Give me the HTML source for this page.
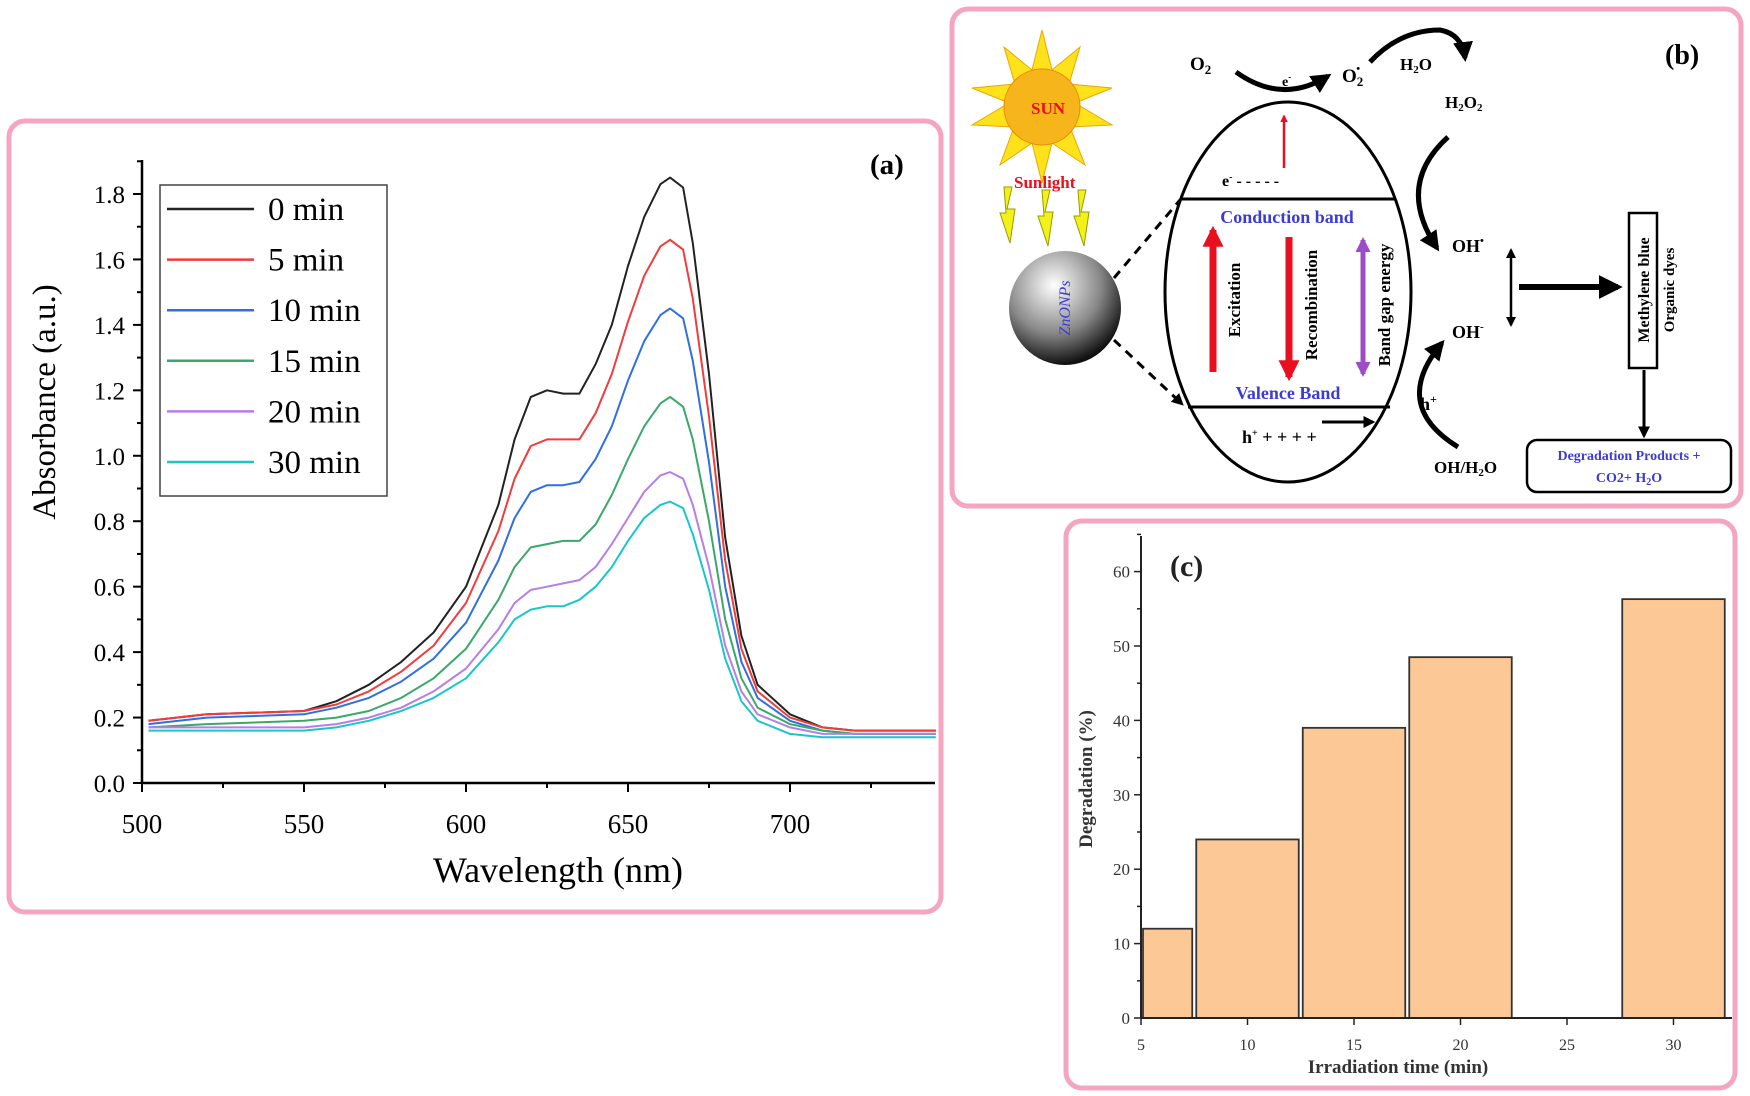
<!DOCTYPE html>
<html><head><meta charset="utf-8"><style>
html,body{margin:0;padding:0;background:#fff;}
svg{display:block;font-family:"Liberation Serif",serif;}
</style></head><body>
<svg id="fig" width="1750" height="1096" viewBox="0 0 1750 1096">
<defs>
<marker id="ah" viewBox="0 0 10 10" refX="8" refY="5" markerWidth="4" markerHeight="4" orient="auto"><path d="M0,0L10,5L0,10z" fill="#000"/></marker>
<marker id="ahr" viewBox="0 0 10 10" refX="8" refY="5" markerWidth="3" markerHeight="3" orient="auto-start-reverse"><path d="M0,0L10,5L0,10z" fill="#e8101e"/></marker>
<marker id="ahp" viewBox="0 0 10 10" refX="8" refY="5" markerWidth="3" markerHeight="3" orient="auto-start-reverse"><path d="M0,0L10,5L0,10z" fill="#9b4cc6"/></marker>
<marker id="ahk" viewBox="0 0 10 10" refX="8" refY="5" markerWidth="4" markerHeight="4" orient="auto-start-reverse"><path d="M0,0L10,5L0,10z" fill="#000"/></marker>
<radialGradient id="sph" cx="0.4" cy="0.3" r="0.7"><stop offset="0" stop-color="#fff"/><stop offset="0.6" stop-color="#888"/><stop offset="1" stop-color="#111"/></radialGradient>
</defs>
<!-- panel frames -->
<rect x="9" y="121" width="932" height="791" rx="16" fill="none" stroke="#f4a6c0" stroke-width="5"/>
<rect x="952" y="9" width="789" height="497" rx="16" fill="none" stroke="#f4a6c0" stroke-width="5"/>
<rect x="1066" y="521" width="669" height="567" rx="16" fill="none" stroke="#f4a6c0" stroke-width="5"/>

<g id="pa"></g>
<g id="pc"></g>

<!-- panel b: mechanism diagram -->
<g>
 <g>
  <polygon fill="#ffe21a" stroke="#e8a800" stroke-width="1" points="1042,30 1052,70 1080,47 1069,84 1112,88 1075,103 1112,125 1070,127 1085,165 1052,143 1042,183 1032,143 1000,165 1014,127 972,125 1009,103 972,88 1015,84 1004,47 1032,70"/>
  <circle cx="1042" cy="107" r="38" fill="#f7b51c" stroke="#e88a00"/>
  <text x="1031" y="114" font-size="17" font-weight="bold" fill="#e8101e">SUN</text>
 </g>
 <text x="1014" y="188" font-size="17" font-weight="bold" fill="#e8101e">Sunlight</text>
 <g fill="#f2f21a" stroke="#9a9a00" stroke-width="1">
  <path d="M1004,187 l8,0 l-5,22 l8,0 l-5,34 l-10,-30 l6,0 z"/>
  <path d="M1042,190 l8,0 l-5,22 l8,0 l-5,34 l-10,-30 l6,0 z"/>
  <path d="M1078,190 l8,0 l-5,22 l8,0 l-5,34 l-10,-30 l6,0 z"/>
 </g>
 <ellipse cx="1065" cy="308" rx="56" ry="57" fill="url(#sph)"/>
 <text transform="translate(1070,308) rotate(-90)" text-anchor="middle" font-size="16" fill="#3b3bd6" font-style="italic">ZnONPs</text>
 <line x1="1114" y1="278" x2="1180" y2="200" stroke="#000" stroke-width="3" stroke-dasharray="9,7"/>
 <line x1="1114" y1="340" x2="1182" y2="404" stroke="#000" stroke-width="3" stroke-dasharray="9,7" marker-end="url(#ah)"/>
 <ellipse cx="1288" cy="292" rx="123" ry="190" fill="none" stroke="#000" stroke-width="3"/>
 <line x1="1180" y1="199" x2="1396" y2="199" stroke="#000" stroke-width="3"/>
 <line x1="1188" y1="407" x2="1390" y2="407" stroke="#000" stroke-width="3"/>
 <text x="1287" y="223" text-anchor="middle" font-size="18" font-weight="bold" fill="#3b3bd6">Conduction band</text>
 <text x="1288" y="399" text-anchor="middle" font-size="18" font-weight="bold" fill="#3b3bd6">Valence Band</text>
 <text x="1222" y="186" font-size="16" font-weight="bold">e<tspan dy="-6" font-size="10">-</tspan><tspan dy="6"> - - - - -</tspan></text>
 <line x1="1284" y1="168" x2="1284" y2="116" stroke="#e8101e" stroke-width="2.5" marker-end="url(#ahr)"/>
 <line x1="1213" y1="372" x2="1213" y2="230" stroke="#e8101e" stroke-width="7" marker-end="url(#ahr)"/>
 <line x1="1289" y1="237" x2="1289" y2="377" stroke="#e8101e" stroke-width="7" marker-end="url(#ahr)"/>
 <line x1="1363" y1="240" x2="1363" y2="374" stroke="#9b4cc6" stroke-width="5" marker-start="url(#ahp)" marker-end="url(#ahp)"/>
 <text transform="translate(1240,300) rotate(-90)" text-anchor="middle" font-size="17" font-weight="bold">Excitation</text>
 <text transform="translate(1317,305) rotate(-90)" text-anchor="middle" font-size="17" font-weight="bold">Recombination</text>
 <text transform="translate(1390,305) rotate(-90)" text-anchor="middle" font-size="17" font-weight="bold">Band gap energy</text>
 <text x="1242" y="443" font-size="18" font-weight="bold">h<tspan dy="-7" font-size="10">+</tspan><tspan dy="7"> + + + +</tspan></text>
 <line x1="1322" y1="422" x2="1373" y2="422" stroke="#000" stroke-width="3" marker-end="url(#ah)"/>
 <text x="1190" y="70" font-size="19" font-weight="bold">O<tspan font-size="13" dy="4">2</tspan></text>
 <path d="M1236,72 Q1282,105 1328,76" fill="none" stroke="#000" stroke-width="5" marker-end="url(#ah)"/>
 <text x="1282" y="86" font-size="14" font-weight="bold">e<tspan dy="-6" font-size="9">-</tspan></text>
 <text x="1342" y="82" font-size="19" font-weight="bold">O<tspan font-size="13" dy="4">2</tspan><tspan font-size="11" dy="-14" dx="-7">•</tspan></text>
 <path d="M1370,62 Q1400,30 1440,30 Q1462,34 1465,58" fill="none" stroke="#000" stroke-width="5" marker-end="url(#ah)"/>
 <text x="1400" y="70" font-size="17" font-weight="bold">H<tspan font-size="11" dy="3">2</tspan><tspan dy="-3">O</tspan></text>
 <text x="1445" y="108" font-size="17" font-weight="bold">H<tspan font-size="11" dy="3">2</tspan><tspan dy="-3">O</tspan><tspan font-size="11" dy="3">2</tspan></text>
 <path d="M1448,137 Q1395,185 1437,248" fill="none" stroke="#000" stroke-width="5" marker-end="url(#ah)"/>
 <text x="1452" y="252" font-size="18" font-weight="bold">OH<tspan dy="-8" font-size="11">•</tspan></text>
 <line x1="1511" y1="250" x2="1511" y2="325" stroke="#000" stroke-width="2.5" marker-start="url(#ahk)" marker-end="url(#ahk)"/>
 <text x="1452" y="338" font-size="18" font-weight="bold">OH<tspan dy="-8" font-size="11">-</tspan></text>
 <path d="M1458,447 Q1390,405 1442,343" fill="none" stroke="#000" stroke-width="5" marker-end="url(#ah)"/>
 <text x="1420" y="410" font-size="18" font-weight="bold">h<tspan dy="-7" font-size="12">+</tspan></text>
 <text x="1434" y="473" font-size="17" font-weight="bold">OH/H<tspan font-size="11" dy="3">2</tspan><tspan dy="-3">O</tspan></text>
 <line x1="1519" y1="287" x2="1618" y2="287" stroke="#000" stroke-width="6" marker-end="url(#ah)"/>
 <rect x="1629" y="213" width="28" height="155" fill="#fff" stroke="#000" stroke-width="2.5"/>
 <text transform="translate(1649,290) rotate(-90)" text-anchor="middle" font-size="16" font-weight="bold">Methylene blue</text>
 <text transform="translate(1674,290) rotate(-90)" text-anchor="middle" font-size="15" font-weight="bold">Organic dyes</text>
 <line x1="1644" y1="370" x2="1644" y2="436" stroke="#000" stroke-width="3" marker-end="url(#ah)"/>
 <rect x="1527" y="440" width="204" height="52" rx="10" fill="#fff" stroke="#000" stroke-width="2.5"/>
 <text x="1629" y="460" text-anchor="middle" font-size="14" font-weight="bold" fill="#3b3bd6">Degradation Products +</text>
 <text x="1629" y="482" text-anchor="middle" font-size="14" font-weight="bold" fill="#3b3bd6">CO2+ H<tspan font-size="10" dy="3">2</tspan><tspan dy="-3">O</tspan></text>
 <text x="1665" y="64" font-size="28" font-weight="bold">(b)</text>
</g>
</svg>
<script>
const NS="http://www.w3.org/2000/svg";
// ---- panel (a) data ----
const wavelengths=[502,520,550,560,570,580,590,600,610,615,620,625,630,635,640,645,650,655,660,663,667,670,675,680,685,690,700,710,720,745];
const seriesNames=["0 min","5 min","10 min","15 min","20 min","30 min"];
const abs0=[0.19,0.21,0.22,0.25,0.30,0.37,0.46,0.60,0.85,1.05,1.18,1.20,1.19,1.19,1.28,1.40,1.58,1.73,1.83,1.85,1.82,1.65,1.25,0.75,0.45,0.30,0.21,0.17,0.16,0.16];
const abs5=[0.19,0.21,0.22,0.24,0.28,0.34,0.42,0.55,0.77,0.93,1.03,1.05,1.05,1.05,1.13,1.25,1.41,1.55,1.64,1.66,1.63,1.48,1.12,0.68,0.41,0.28,0.20,0.17,0.16,0.16];
const abs10=[0.18,0.20,0.21,0.23,0.26,0.31,0.38,0.49,0.68,0.81,0.89,0.91,0.91,0.92,0.99,1.09,1.23,1.35,1.43,1.45,1.42,1.29,0.98,0.60,0.37,0.26,0.19,0.16,0.15,0.15];
const abs15=[0.17,0.18,0.19,0.20,0.22,0.26,0.32,0.41,0.56,0.66,0.72,0.73,0.74,0.74,0.79,0.88,0.99,1.09,1.16,1.18,1.15,1.05,0.80,0.50,0.32,0.23,0.18,0.16,0.15,0.15];
const abs20=[0.17,0.17,0.17,0.18,0.20,0.23,0.28,0.35,0.47,0.55,0.59,0.60,0.61,0.62,0.66,0.73,0.81,0.89,0.94,0.95,0.93,0.85,0.66,0.42,0.28,0.21,0.17,0.15,0.15,0.15];
const abs30=[0.16,0.16,0.16,0.17,0.19,0.22,0.26,0.32,0.43,0.50,0.53,0.54,0.54,0.56,0.60,0.66,0.74,0.81,0.85,0.86,0.84,0.76,0.59,0.38,0.25,0.19,0.15,0.14,0.14,0.14];
const seriesColors=["#222","#f03c3c","#2f6fe0","#3aa86a","#b77ee6","#19c6c9"];
const xTicksA=[500,550,600,650,700];
const yTicksA=[0.0,0.2,0.4,0.6,0.8,1.0,1.2,1.4,1.6,1.8];
// ---- panel (c) data ----
const times=[5,10,15,20,30];
const degradation=[12,24,39,48.5,56.3];
const xTicksC=[5,10,15,20,25,30];
const yTicksC=[0,10,20,30,40,50,60];

function mk(tag,attrs,parent,txt){const e=document.createElementNS(NS,tag);for(const k in attrs)e.setAttribute(k,attrs[k]);if(txt!==undefined)e.textContent=txt;parent.appendChild(e);return e;}

// panel a
const pa=document.getElementById('pa');
const ax=w=>142+(w-500)*162/50;
const ay=v=>783-v*(783-194)/1.8;
mk('line',{x1:142,y1:783,x2:935,y2:783,stroke:'#000','stroke-width':2.5},pa);
mk('line',{x1:142,y1:783,x2:142,y2:160,stroke:'#000','stroke-width':2.5},pa);
xTicksA.forEach(t=>{
 mk('line',{x1:ax(t),y1:783,x2:ax(t),y2:792,stroke:'#000','stroke-width':2},pa);
 const m=ax(t+25); if(m<935) mk('line',{x1:m,y1:783,x2:m,y2:788,stroke:'#000','stroke-width':2},pa);
 const tl=mk('text',{x:ax(t),y:833,'text-anchor':'middle','font-size':27},pa,String(t));
 
 
});
yTicksA.forEach(t=>{
 mk('line',{x1:133,y1:ay(t),x2:142,y2:ay(t),stroke:'#000','stroke-width':2},pa);
 mk('line',{x1:137,y1:ay(t+0.1),x2:142,y2:ay(t+0.1),stroke:'#000','stroke-width':2},pa);
 const tl=mk('text',{x:125,y:ay(t)+9,'text-anchor':'end','font-size':25},pa,t.toFixed(1));
 
 
});
const yt=mk('text',{transform:'translate(55,402) rotate(-90)','text-anchor':'middle','font-size':33},pa,'Absorbance (a.u.)');


const xt=mk('text',{x:558,y:882,'text-anchor':'middle','font-size':36},pa,'Wavelength (nm)');


const la=mk('text',{x:870,y:174,'font-size':29,'font-weight':'bold'},pa,'(a)');


const allAbs=[abs0,abs5,abs10,abs15,abs20,abs30];
allAbs.forEach((s,i)=>{
 const d=s.map((v,j)=>(j?'L':'M')+ax(wavelengths[j]).toFixed(1)+','+ay(v).toFixed(1)).join(' ');
 const p=mk('path',{d:d,fill:'none',stroke:seriesColors[i],'stroke-width':2,'stroke-linejoin':'round'},pa);
 
 
});
const lg=mk('g',{},pa);


mk('rect',{x:160,y:185,width:227,height:311,fill:'#fff',stroke:'#444','stroke-width':1.5},lg);
seriesNames.forEach((n,i)=>{
 const y=209+i*50.6;
 const e=mk('g',{},lg);
 
 
 mk('line',{x1:167,y1:y,x2:254,y2:y,stroke:seriesColors[i],'stroke-width':2.5},e);
 mk('text',{x:268,y:y+11,'font-size':33},e,n);
});

// panel c
const pc=document.getElementById('pc');
const cx=t=>1141+(t-5)*21.3;
const cy=v=>1018-v*7.44;
times.forEach((t,i)=>{
 const l=Math.max(5,t-2.5), r=t+2.5;
 const b=mk('rect',{x:cx(l)+2,y:cy(degradation[i]),width:cx(r)-cx(l)-4,height:cy(0)-cy(degradation[i]),fill:'#fbc896',stroke:'#333','stroke-width':1.8},pc);
 
 
});
mk('line',{x1:1141,y1:1018,x2:1732,y2:1018,stroke:'#222','stroke-width':2},pc);
mk('line',{x1:1141,y1:1018,x2:1141,y2:536,stroke:'#222','stroke-width':2},pc);
xTicksC.forEach(t=>{
 mk('line',{x1:cx(t),y1:1018,x2:cx(t),y2:1025,stroke:'#222','stroke-width':1.5},pc);
 const tl=mk('text',{x:cx(t),y:1050,'text-anchor':'middle','font-size':16,fill:'#333'},pc,String(t));
 
 
});
yTicksC.forEach(t=>{
 mk('line',{x1:1134,y1:cy(t),x2:1141,y2:cy(t),stroke:'#222','stroke-width':1.5},pc);
 mk('line',{x1:1137,y1:cy(t+5),x2:1141,y2:cy(t+5),stroke:'#222','stroke-width':1.5},pc);
 const tl=mk('text',{x:1130,y:cy(t)+6,'text-anchor':'end','font-size':17,fill:'#333'},pc,String(t));
 
 
});
const cyt=mk('text',{transform:'translate(1092,779) rotate(-90)','text-anchor':'middle','font-size':19,'font-weight':'bold',fill:'#333'},pc,'Degradation (%)');


const cxt=mk('text',{x:1398,y:1073,'text-anchor':'middle','font-size':19,'font-weight':'bold',fill:'#333'},pc,'Irradiation time (min)');


const lc=mk('text',{x:1170,y:576,'font-size':30,'font-weight':'bold',fill:'#222'},pc,'(c)');


</script>
</body></html>
